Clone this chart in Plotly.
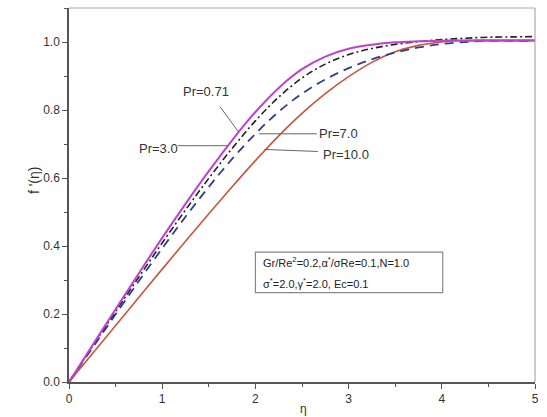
import plotly.graph_objects as go

eta = [0, 0.25, 0.5, 0.75, 1.0, 1.25, 1.5, 1.75, 2.0, 2.25, 2.5, 2.75, 3.0, 3.25, 3.5, 3.75, 4.0, 4.25, 4.5, 4.75, 5.0]

f_pr071 = [0, 0.107, 0.214, 0.320, 0.424, 0.524, 0.620, 0.711, 0.794, 0.865, 0.920, 0.957, 0.980, 0.992, 0.999, 1.002, 1.004, 1.004, 1.004, 1.004, 1.004]
f_pr3 = [0, 0.104, 0.207, 0.309, 0.409, 0.506, 0.599, 0.687, 0.768, 0.838, 0.894, 0.935, 0.963, 0.981, 0.993, 1.001, 1.007, 1.011, 1.014, 1.015, 1.016]
f_pr7 = [0, 0.100, 0.199, 0.297, 0.393, 0.486, 0.574, 0.656, 0.730, 0.795, 0.848, 0.890, 0.923, 0.949, 0.969, 0.984, 0.994, 1.000, 1.003, 1.003, 1.003]
f_pr10 = [0, 0.083, 0.166, 0.249, 0.332, 0.414, 0.495, 0.574, 0.651, 0.724, 0.790, 0.848, 0.898, 0.940, 0.971, 0.990, 1.000, 1.005, 1.006, 1.006, 1.006]

x_ticks = [0, 1, 2, 3, 4, 5]
y_ticks = [0.0, 0.2, 0.4, 0.6, 0.8, 1.0]

fig = go.Figure()
fig.add_trace(go.Scatter(x=eta, y=f_pr10, mode="lines", line=dict(color="#c8553f", width=1.6, shape="spline"), name="Pr=10.0"))
fig.add_trace(go.Scatter(x=eta, y=f_pr7, mode="lines", line=dict(color="#2f3f8f", width=1.8, dash="9px,6px", shape="spline"), name="Pr=7.0"))
fig.add_trace(go.Scatter(x=eta, y=f_pr3, mode="lines", line=dict(color="#222222", width=1.6, dash="7px,3px,2px,3px", shape="spline"), name="Pr=3.0"))
fig.add_trace(go.Scatter(x=eta, y=f_pr071, mode="lines", line=dict(color="#c040d0", width=2.0, shape="spline"), name="Pr=0.71"))

font = "Liberation Sans, Arial, sans-serif"
axcol = "#555555"

# frame top/right lighter
fig.add_shape(type="line", xref="paper", yref="paper", x0=0, x1=1, y0=1, y1=1, line=dict(color="#aaaaaa", width=1.2))
fig.add_shape(type="line", xref="paper", yref="paper", x0=1, x1=1, y0=0, y1=1, line=dict(color="#aaaaaa", width=1.2))

# pointer lines for labels (data coords)
pointers = [
    (1.62, 0.81, 1.82, 0.735),
    (1.17, 0.695, 1.71, 0.695),
    (2.04, 0.73, 2.66, 0.73),
    (2.1, 0.684, 2.67, 0.678),
]
for x0, y0, x1, y1 in pointers:
    fig.add_shape(type="line", x0=x0, y0=y0, x1=x1, y1=y1, line=dict(color="#666666", width=1))

labels = [
    ("Pr=0.71", 1.2, 0.855),
    ("Pr=3.0", 0.73, 0.688),
    ("Pr=7.0", 2.66, 0.730),
    ("Pr=10.0", 2.7, 0.668),
]
for t, x, y in labels:
    fig.add_annotation(x=x, y=y, text=t, showarrow=False, xanchor="left", yanchor="middle",
                       font=dict(family=font, size=13, color="#333333"))

# parameter box
fig.add_shape(type="rect", x0=2.0, x1=4.01, y0=0.263, y1=0.382, line=dict(color="#888888", width=1.2), fillcolor="white", layer="above")
fig.add_annotation(x=2.06, y=0.352, text="Gr/Re<sup>2</sup>=0.2,α<sup>*</sup>/σRe=0.1,N=1.0", showarrow=False,
                   xanchor="left", yanchor="middle", font=dict(family=font, size=11, color="#222222"))
fig.add_annotation(x=2.06, y=0.292, text="σ<sup>*</sup>=2.0,γ<sup>*</sup>=2.0, Ec=0.1", showarrow=False,
                   xanchor="left", yanchor="middle", font=dict(family=font, size=11, color="#222222"))

# axis titles
fig.add_annotation(xref="paper", yref="paper", x=-0.075, y=0.54, text="f '(η)", textangle=-90, showarrow=False,
                   xanchor="center", yanchor="middle", font=dict(family=font, size=14, color="#333333"))
fig.add_annotation(xref="paper", yref="paper", x=0.503, y=-0.072, text="η", showarrow=False,
                   xanchor="center", yanchor="middle", font=dict(family=font, size=12, color="#333333"))

fig.update_layout(
    width=547, height=417,
    margin=dict(l=69, r=9, t=8, b=35),
    plot_bgcolor="white", paper_bgcolor="white",
    showlegend=False,
    font=dict(family=font, size=12, color="#333333"),
)
fig.update_xaxes(range=[0, 5], tickvals=x_ticks, ticktext=[str(v) for v in x_ticks],
                 showgrid=False, zeroline=False, showline=True, linecolor=axcol, linewidth=1.5,
                 ticks="outside", ticklen=5, tickwidth=1.2, tickcolor=axcol,
                 minor=dict(dtick=0.5, tick0=0, ticks="outside", ticklen=3, tickcolor=axcol, tickwidth=1.2),
                 tickfont=dict(family=font, size=12, color="#333333"))
fig.update_yaxes(range=[0, 1.1], tickvals=y_ticks, ticktext=[f"{v:.1f}" for v in y_ticks],
                 showgrid=False, zeroline=False, showline=True, linecolor=axcol, linewidth=1.5,
                 ticks="outside", ticklen=5, tickwidth=1.2, tickcolor=axcol,
                 minor=dict(dtick=0.1, tick0=0, ticks="outside", ticklen=3, tickcolor=axcol, tickwidth=1.2),
                 tickfont=dict(family=font, size=12, color="#333333"))

fig.write_html("out.html")
